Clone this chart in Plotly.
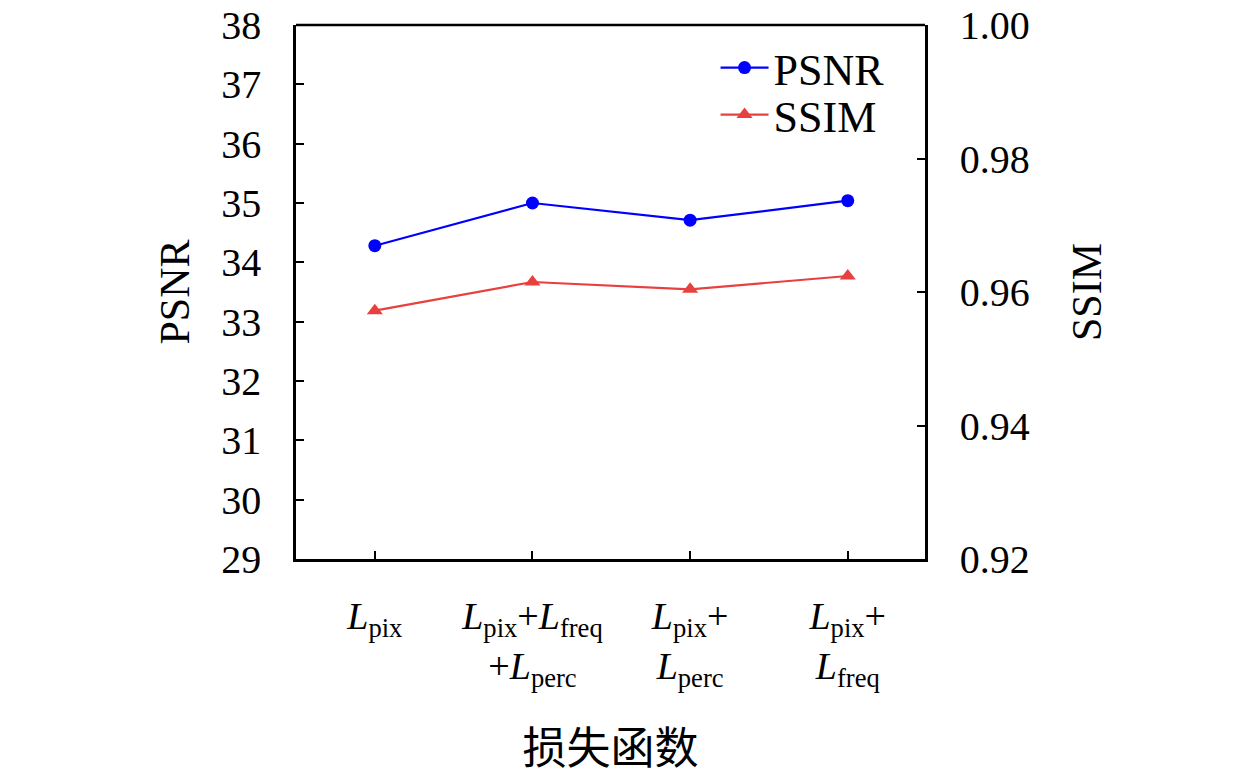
import plotly.graph_objects as go

categories = [
    "<i>L</i><sub>pix</sub>",
    "<i>L</i><sub>pix</sub>+<i>L</i><sub>freq</sub><br>+<i>L</i><sub>perc</sub>",
    "<i>L</i><sub>pix</sub>+<br><i>L</i><sub>perc</sub>",
    "<i>L</i><sub>pix</sub>+<br><i>L</i><sub>freq</sub>",
]
psnr = [34.28, 35.00, 34.71, 35.04]
ssim = [0.9572, 0.9615, 0.9604, 0.9624]
psnr_ticks = [29, 30, 31, 32, 33, 34, 35, 36, 37, 38]
ssim_ticks = [0.92, 0.94, 0.96, 0.98, 1.00]

x_idx = list(range(len(categories)))
FONT = "Liberation Serif"

fig = go.Figure()
fig.add_trace(go.Scatter(
    x=x_idx, y=psnr, name="PSNR", mode="lines+markers", legend="legend",
    line=dict(color="#0000FF", width=2.2),
    marker=dict(symbol="circle", size=13, color="#0000FF"),
))
fig.add_trace(go.Scatter(
    x=x_idx, y=ssim, name="SSIM", mode="lines+markers", yaxis="y2", legend="legend2",
    line=dict(color="#E8403F", width=2.2),
    marker=dict(symbol="triangle-up", size=14, color="#E8403F"),
))

axis_common = dict(showline=True, linecolor="black", linewidth=2.5,
                   ticks="inside", ticklen=8, tickwidth=2, tickcolor="black",
                   showgrid=False, zeroline=False, automargin=False)

leg_common = dict(x=0.667, xanchor="left", yanchor="middle",
                  bgcolor="rgba(0,0,0,0)", font=dict(family=FONT, size=44),
                  itemwidth=48)

fig.update_layout(
    width=1260, height=777,
    margin=dict(l=296, r=335, t=25, b=218),
    paper_bgcolor="white", plot_bgcolor="white",
    font=dict(family=FONT, size=40, color="black"),
    showlegend=True,
    legend=dict(**leg_common, y=0.9195),
    legend2=dict(**leg_common, y=0.8315),
    xaxis=dict(**axis_common, mirror=False, range=[-0.5, 3.49],
               tickmode="array", tickvals=x_idx, ticktext=categories,
               tickfont=dict(family=FONT, size=38), ticklabelstandoff=22,
               title=dict(text="损失函数", standoff=62,
                          font=dict(family="Noto Sans CJK SC", size=44))),
    yaxis=dict(**axis_common, mirror=False, range=[29, 38],
               tickmode="array", tickvals=psnr_ticks,
               tickfont=dict(family=FONT, size=40), ticklabelstandoff=24,
               title=dict(text="PSNR", standoff=19, font=dict(family=FONT, size=42))),
    yaxis2=dict(**axis_common, overlaying="y", side="right", range=[0.92, 1.00],
                tickmode="array", tickvals=ssim_ticks,
                ticktext=[f"{v:.2f}" for v in ssim_ticks],
                tickfont=dict(family=FONT, size=40), ticklabelstandoff=24,
                title=dict(text="SSIM", standoff=43, font=dict(family=FONT, size=42))),
    shapes=[dict(type="line", xref="paper", yref="paper", x0=0, x1=1, y0=1, y1=1,
                 line=dict(color="black", width=2.5))],
)

fig.write_html("out.html", config={"displayModeBar": False},
               post_script="document.body.style.margin='0';")
